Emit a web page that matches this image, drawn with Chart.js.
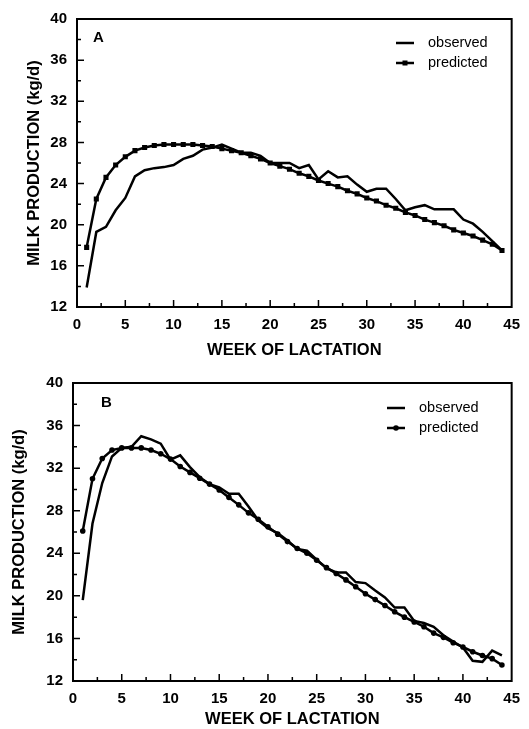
<!DOCTYPE html>
<html>
<head>
<meta charset="utf-8">
<script src="https://cdn.jsdelivr.net/npm/chart.js@4.4.1/dist/chart.umd.min.js"></script>
<style>
  html, body { margin: 0; padding: 0; background: #fff; }
  #wrap { position: relative; width: 529px; height: 729px; }
  .panel { position: absolute; left: 0; width: 529px; }
  #pa { top: 0; height: 360px; }
  #pb { top: 360px; height: 369px; }
</style>
</head>
<body>
<div id="wrap">
  <div class="panel" id="pa"><canvas id="chartA" width="529" height="360"></canvas></div>
  <div class="panel" id="pb"><canvas id="chartB" width="529" height="369"></canvas></div>
</div>
<script>
// ---- data ----
const weeks = [1,2,3,4,5,6,7,8,9,10,11,12,13,14,15,16,17,18,19,20,21,22,23,24,25,26,27,28,29,30,31,32,33,34,35,36,37,38,39,40,41,42,43,44];

const observedA = [13.9,19.3,19.8,21.4,22.6,24.7,25.3,25.5,25.6,25.8,26.4,26.7,27.3,27.5,27.8,27.4,27.0,27.0,26.7,26.0,26.0,26.0,25.5,25.8,24.4,25.2,24.6,24.7,23.9,23.2,23.5,23.5,22.5,21.4,21.7,21.9,21.5,21.5,21.5,20.5,20.1,19.3,18.4,17.5];
const predictedA = [17.8,22.5,24.6,25.8,26.6,27.2,27.5,27.7,27.8,27.8,27.8,27.8,27.7,27.6,27.4,27.2,27.0,26.7,26.4,26.0,25.7,25.4,25.0,24.7,24.3,24.0,23.7,23.3,23.0,22.6,22.3,21.9,21.6,21.2,20.9,20.5,20.2,19.9,19.5,19.2,18.9,18.5,18.1,17.5];

const observedB = [19.6,26.8,30.6,33.1,33.9,34.0,35.0,34.7,34.3,32.8,33.2,32.1,31.15,30.5,30.2,29.6,29.6,28.4,27.1,26.35,25.9,25.2,24.4,24.25,23.4,22.6,22.2,22.2,21.3,21.2,20.5,19.85,18.9,18.9,17.65,17.45,17.1,16.3,15.7,15.15,13.9,13.8,14.85,14.4];
const predictedB = [26.1,31.0,32.9,33.7,33.9,33.9,33.9,33.7,33.35,32.85,32.15,31.6,31.05,30.5,29.95,29.25,28.55,27.8,27.2,26.5,25.8,25.1,24.45,24.0,23.35,22.65,22.1,21.5,20.85,20.2,19.65,19.1,18.5,18.0,17.55,17.1,16.5,16.1,15.6,15.2,14.75,14.4,14.1,13.5];

const seriesNames = ['observed', 'predicted'];
const panelLabels = ['A', 'B'];
const xTitle = 'WEEK OF LACTATION';
const yTitle = 'MILK PRODUCTION (kg/d)';
const xRange = [0, 45, 5];   // min, max, major step
const yRange = [12, 40, 4];

// ---- plugins ----
const frameTicks = {
  id: 'frameTicks',
  afterDraw(chart) {
    const {ctx, chartArea: a, scales: {x, y}} = chart;
    ctx.save();
    ctx.strokeStyle = '#000';
    ctx.lineWidth = 2;
    ctx.strokeRect(a.left, a.top, a.right - a.left, a.bottom - a.top);
    ctx.lineWidth = 1.5;
    ctx.beginPath();
    for (let v = xRange[0] + xRange[2] / 2; v < xRange[1]; v += xRange[2] / 2) {
      const px = x.getPixelForValue(v);
      const major = Math.abs(v / xRange[2] - Math.round(v / xRange[2])) < 1e-6;
      ctx.moveTo(px, a.bottom);
      ctx.lineTo(px, a.bottom - (major ? 7 : 4));
    }
    for (let v = yRange[0] + yRange[2] / 2; v < yRange[1]; v += yRange[2] / 2) {
      const py = y.getPixelForValue(v);
      const major = Math.abs((v - yRange[0]) / yRange[2] - Math.round((v - yRange[0]) / yRange[2])) < 1e-6;
      ctx.moveTo(a.left, py);
      ctx.lineTo(a.left + (major ? 7 : 4), py);
    }
    ctx.stroke();
    ctx.restore();
  }
};

const annot = {
  id: 'annot',
  afterDraw(chart, args, opts) {
    const {ctx, chartArea: a} = chart;
    ctx.save();
    ctx.fillStyle = '#000';
    ctx.textBaseline = 'middle';
    ctx.font = 'bold 15px "Liberation Sans", Arial, sans-serif';
    ctx.fillText(opts.label, a.left + opts.labelDx, a.top + opts.labelDy);
    // legend
    ctx.font = '14.5px "Liberation Sans", Arial, sans-serif';
    const ds = chart.data.datasets;
    ds.forEach((d, i) => {
      const yy = a.top + opts.legDy + i * 20;
      const x0 = a.left + opts.legDx;
      ctx.strokeStyle = '#000';
      ctx.lineWidth = 2.5;
      ctx.beginPath();
      ctx.moveTo(x0, yy);
      ctx.lineTo(x0 + 18, yy);
      ctx.stroke();
      if (d.pointRadius > 0) {
        ctx.beginPath();
        if (d.pointStyle === 'rect') {
          ctx.fillRect(x0 + 9 - 2.5, yy - 2.5, 5, 5);
        } else {
          ctx.arc(x0 + 9, yy, 2.8, 0, Math.PI * 2);
          ctx.fill();
        }
      }
      ctx.fillText(d.label, x0 + 32, yy);
    });
    ctx.restore();
  }
};

function makeChart(id, obs, pred, cfg) {
  const tickFont = {family: '"Liberation Sans", Arial, sans-serif', size: 15, weight: 'bold'};
  const titleFont = {family: '"Liberation Sans", Arial, sans-serif', size: 16.5, weight: 'bold'};
  return new Chart(document.getElementById(id), {
    type: 'line',
    data: {
      datasets: [
        {
          label: seriesNames[0],
          data: weeks.map((w, i) => ({x: w, y: obs[i]})),
          borderColor: '#000', backgroundColor: '#000',
          borderWidth: 2.5, pointRadius: 0, tension: 0
        },
        {
          label: seriesNames[1],
          data: weeks.map((w, i) => ({x: w, y: pred[i]})),
          borderColor: '#000', backgroundColor: '#000',
          borderWidth: 2.5, pointRadius: cfg.pointRadius, pointStyle: cfg.pointStyle,
          pointBorderWidth: 0, tension: 0
        }
      ]
    },
    options: {
      responsive: false,
      animation: false,
      events: [],
      layout: {padding: {left: 0, right: cfg.right, top: cfg.top, bottom: 0}},
      plugins: {
        legend: {display: false},
        tooltip: {enabled: false},
        annot: cfg.annot
      },
      scales: {
        x: {
          type: 'linear', min: xRange[0], max: xRange[1],
          ticks: {stepSize: xRange[2], padding: 9, color: '#000', font: tickFont},
          grid: {display: false, drawTicks: false},
          border: {display: false},
          title: {display: true, text: xTitle, color: '#000', font: titleFont, padding: {top: 0, bottom: cfg.xTitlePad}},
          afterFit: s => { s.height = cfg.xAxisH; }
        },
        y: {
          type: 'linear', min: yRange[0], max: yRange[1],
          ticks: {stepSize: yRange[2], padding: 10, color: '#000', font: tickFont},
          grid: {display: false, drawTicks: false},
          border: {display: false},
          title: {display: true, text: yTitle, color: '#000', font: titleFont, padding: {top: cfg.yTitlePad, bottom: 0}},
          afterFit: s => { s.width = cfg.yAxisW; }
        }
      }
    },
    plugins: [frameTicks, annot]
  });
}

makeChart('chartA', observedA, predictedA, {
  pointRadius: 3.6, pointStyle: 'rect',
  right: 12, top: 18, xAxisH: 53, yAxisW: 77,
  xTitlePad: 0, yTitlePad: 25,
  annot: {label: panelLabels[0], labelDx: 16, labelDy: 19, legDx: 319, legDy: 24}
});

makeChart('chartB', observedB, predictedB, {
  pointRadius: 2.8, pointStyle: 'circle',
  right: 11, top: 23, xAxisH: 48, yAxisW: 73,
  xTitlePad: 0, yTitlePad: 10,
  annot: {label: panelLabels[1], labelDx: 28, labelDy: 20, legDx: 314, legDy: 25}
});
</script>
</body>
</html>
